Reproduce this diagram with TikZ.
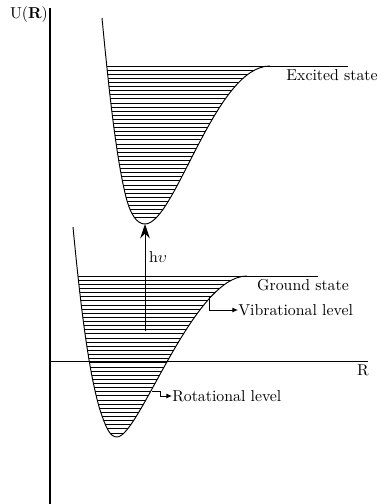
\documentclass[tikz,border=0pt]{standalone}
\usetikzlibrary{arrows.meta}
\begin{document}
\begin{tikzpicture}[x=0.633pt,y=-0.633pt,
  vaxis/.style={line width=0.9pt},
  haxis/.style={line width=0.55pt},
  curve/.style={line width=0.6pt},
  level/.style={line width=0.45pt},
  lbl/.style={font=\fontsize{10}{12}\selectfont, inner sep=0pt},
  pointer/.style={line width=0.5pt,-{Latex[length=3.5pt,width=3pt]}},
  photon/.style={line width=0.6pt,-{Stealth[length=9pt,width=6pt]}}]
\useasboundingbox (0,0) rectangle (380,504);
% axes
\coordinate (otop) at (50,8);
\coordinate (obot) at (50,504);
\coordinate (xl) at (50,361);
\coordinate (xr) at (368,361);
\draw[vaxis] (otop) -- (obot);
\draw[haxis] (xl) -- (xr);
\node[lbl] (ulab) at (29,15) {U(\textbf{R})};
\node[lbl] (rlab) at (363,370) {R};
% ground state levels
\def\groundpath{(73,227) .. controls (80,300) and (88,370) .. (100,410) .. controls (106,428) and (110,437) .. (117,437) .. controls (139,437) and (193,276) .. (247,276)}
\begin{scope}
\clip (73,227) .. controls (80,300) and (88,370) .. (100,410) .. controls (106,428) and (110,437) .. (117,437) .. controls (139,437) and (193,276) .. (247,276) -- (247,200) -- (60,200) -- cycle;
\foreach \k in {0,...,38}{
  \pgfmathsetmacro{\yy}{276+\k*4.13}
  \draw[level] (60,\yy) -- (260,\yy);
}
\end{scope}
\draw[curve] (73,227) .. controls (80,300) and (88,370) .. (100,410) .. controls (106,428) and (110,437) .. (117,437) .. controls (139,437) and (193,276) .. (247,276);
\coordinate (gtopl) at (240,276);
\coordinate (gtopr) at (318,276);
\draw[curve] (gtopl) -- (gtopr);
\node[lbl] (gs) at (303,285) {Ground state};
% excited state levels
\begin{scope}
\clip (102,18) .. controls (108,80) and (115,150) .. (125,193) .. controls (130,215) and (137,224) .. (145,224) .. controls (175,224) and (215,66) .. (270,66) -- (270,10) -- (90,10) -- cycle;
\foreach \k in {0,...,37}{
  \pgfmathsetmacro{\yy}{66+\k*4.1}
  \draw[level] (90,\yy) -- (280,\yy);
}
\end{scope}
\draw[curve] (102,18) .. controls (108,80) and (115,150) .. (125,193) .. controls (130,215) and (137,224) .. (145,224) .. controls (175,224) and (215,66) .. (270,66);
\coordinate (etopl) at (262,66);
\coordinate (etopr) at (348,66);
\draw[curve] (etopl) -- (etopr);
\node[lbl] (es) at (332,75) {Excited state};
% photon
\coordinate (phbot) at (145,331);
\coordinate (phtop) at (145,224);
\draw[photon] (phbot) -- (phtop);
\node[lbl] (hv) at (158,257) {h$\upsilon$};
% pointers
\coordinate (vibpt) at (209,297);
\node[lbl,anchor=west] (vib) at (238,310) {Vibrational level};
\draw[pointer] (vibpt) |- (vib.west);
\coordinate (rotpt) at (152,391);
\coordinate (rotc) at (160,391);
\node[lbl,anchor=west] (rot) at (172,396) {Rotational level};
\draw[pointer] (rotpt) -- (rotc) |- (rot.west);
\end{tikzpicture}
\end{document}
